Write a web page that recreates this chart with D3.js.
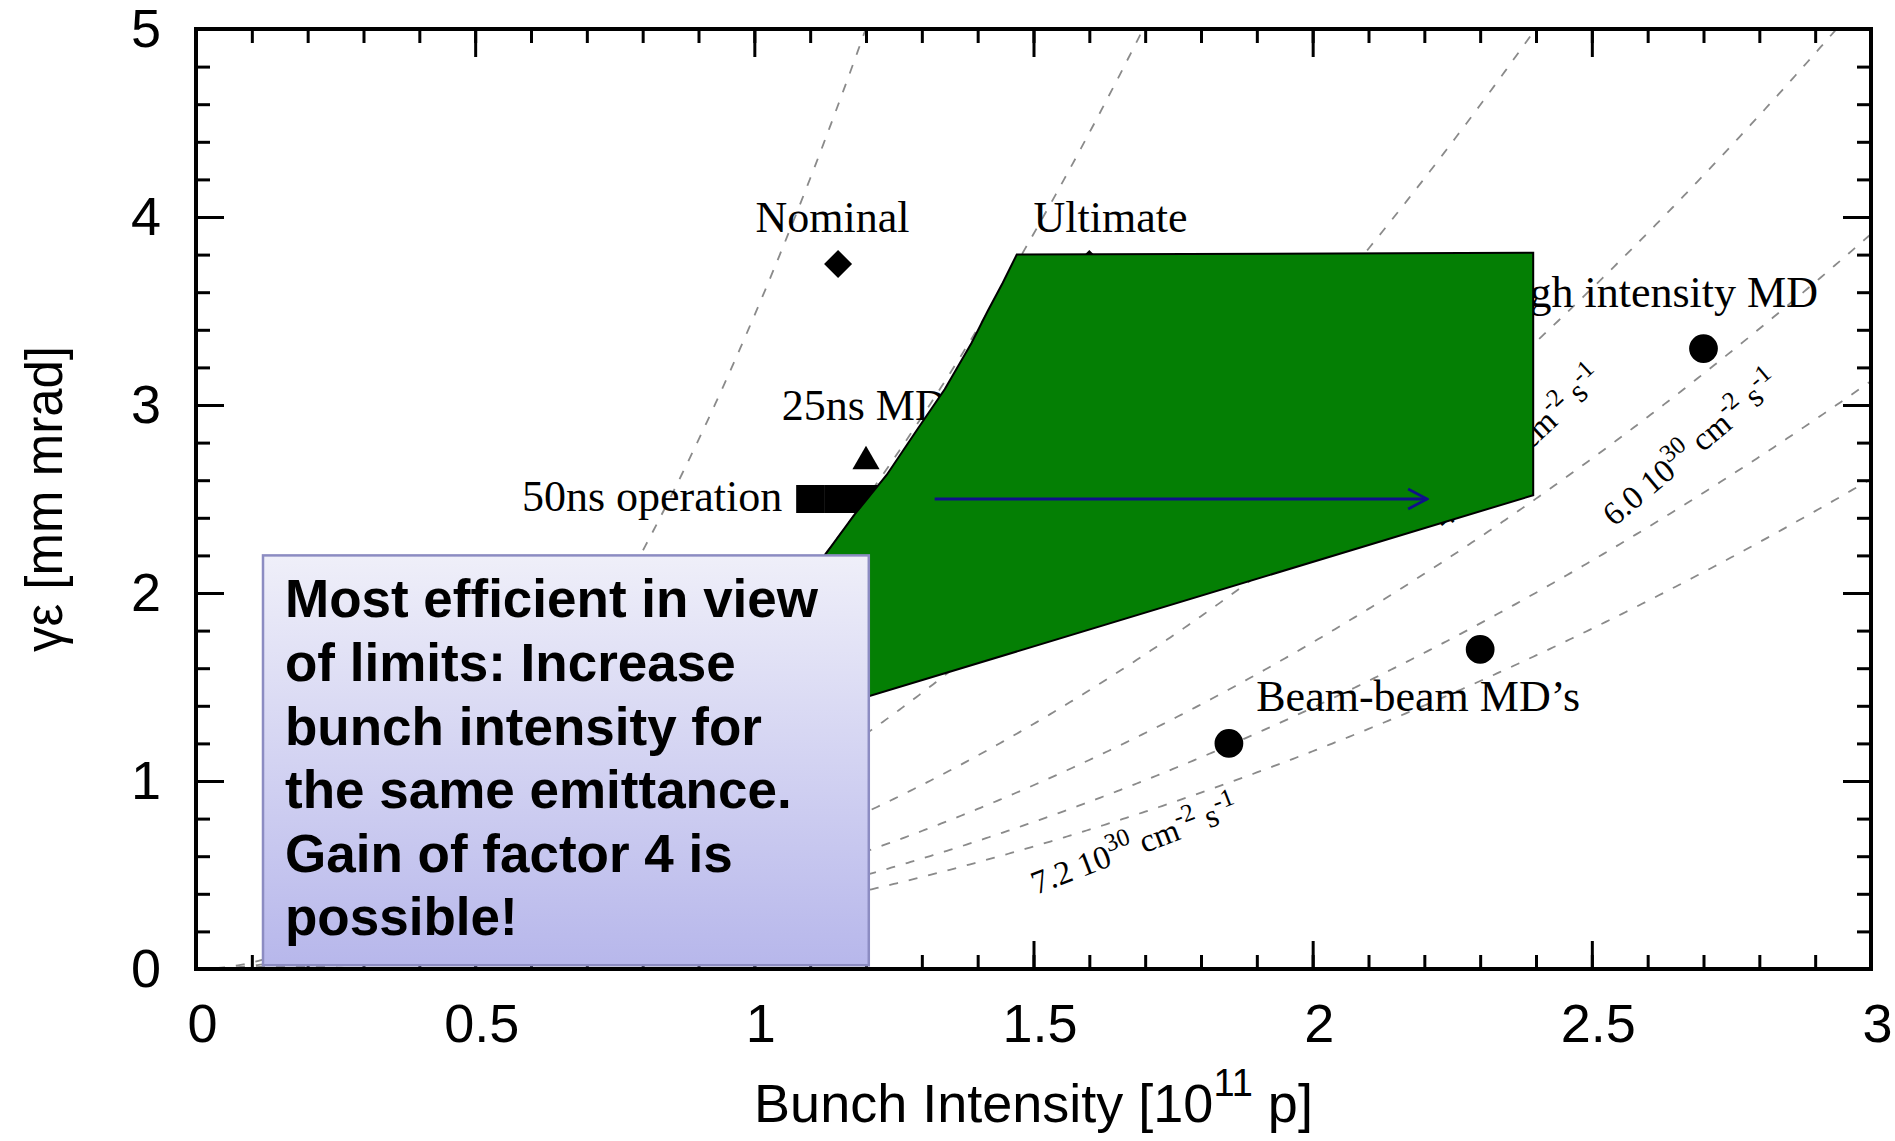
<!DOCTYPE html>
<html>
<head>
<meta charset="utf-8">
<script src="https://cdn.jsdelivr.net/npm/d3@7"></script>
<style>
  body { margin: 0; background: #fff; }
  svg { display: block; }
</style>
</head>
<body>
<div class="canvas"></div>
<script>
// values
const xTicks = [0, 0.5, 1, 1.5, 2, 2.5, 3];
const yTicks = [0, 1, 2, 3, 4, 5];

// iso-luminosity curves, eps = lumiConst * N^2 / L  (L in 10^30 cm^-2 s^-1)
const lumiValues = [0.6, 1.2, 2.4, 3.6, 4.8, 6.0, 7.2];
const lumiConst = 2.085;

const markerNames = ['Nominal', 'Ultimate', '25ns MD', '50ns operation', '50ns operation', '50ns operation',
  'High intensity MD', 'Beam-beam MD’s', 'Beam-beam MD’s'];
const markerN = [1.15, 1.60, 1.20, 1.10, 1.15, 1.20, 2.70, 1.85, 2.30];
const markerEps = [3.75, 3.75, 2.70, 2.50, 2.50, 2.50, 3.30, 1.20, 1.70];
const markerShape = ['diamond', 'diamond', 'triangle', 'square', 'square', 'square', 'circle', 'circle', 'circle'];

// green region (reachable area)
const regionN = [1.47, 2.395, 2.395, 0.87, 1.12, 1.18, 1.237, 1.293, 1.341, 1.389, 1.418, 1.445];
const regionEps = [3.80, 3.81, 2.52, 1.15, 2.176, 2.419, 2.628, 2.875, 3.084, 3.33, 3.50, 3.65];

const arrowN = [1.323, 2.205];
const arrowEps = [2.5, 2.5];

const boxLines = ['Most efficient in view', 'of limits: Increase', 'bunch intensity for',
  'the same emittance.', 'Gain of factor 4 is', 'possible!'];

// label anchors (data units)
const pointLabels = [
  {text: 'Nominal', n: 1.14, e: 3.92, anchor: 'middle'},
  {text: 'Ultimate', n: 1.50, e: 3.92, anchor: 'start'},
  {text: '25ns MD', n: 1.049, e: 2.922, anchor: 'start'},
  {text: '50ns operation', n: 1.05, e: 2.438, anchor: 'end'},
  {text: 'High intensity MD', n: 2.905, e: 3.521, anchor: 'end'},
  {text: 'Beam-beam MD’s', n: 1.899, e: 1.374, anchor: 'start'}
];
const lumiLabels = [
  {lum: 4.8, n: 2.237, e: 2.335, angle: -43},
  {lum: 6.0, n: 2.54, e: 2.35, angle: -40},
  {lum: 7.2, n: 1.505, e: 0.395, angle: -21}
];

// svg & dimensions
const margin = {top: 29, right: 24, bottom: 172, left: 196};
const graphWidth = 1895 - margin.left - margin.right;
const graphHeight = 1141 - margin.top - margin.bottom;

const svg = d3.select('.canvas')
  .append('svg')
    .attr('width', 1895)
    .attr('height', 1141);

const defs = svg.append('defs');
defs.append('clipPath').attr('id', 'plot-clip')
  .append('rect').attr('width', graphWidth).attr('height', graphHeight);

const grad = defs.append('linearGradient').attr('id', 'box-grad')
  .attr('x1', 0).attr('y1', 0).attr('x2', 0).attr('y2', 1);
grad.append('stop').attr('offset', '0%').attr('stop-color', '#efeff9');
grad.append('stop').attr('offset', '100%').attr('stop-color', '#b7b7eb');

defs.append('marker').attr('id', 'arrow-head')
  .attr('markerUnits', 'userSpaceOnUse')
  .attr('viewBox', '-22 -12 24 24')
  .attr('markerWidth', 24).attr('markerHeight', 24)
  .attr('refX', 0).attr('refY', 0)
  .attr('orient', 'auto')
  .append('path')
    .attr('d', 'M-19,-10L0,0L-19,10')
    .attr('fill', 'none')
    .attr('stroke', '#10108a')
    .attr('stroke-width', 2.8);

const graph = svg.append('g')
  .attr('transform', `translate(${margin.left}, ${margin.top})`);

const x = d3.scaleLinear().domain([0, 3]).range([0, graphWidth]);
const y = d3.scaleLinear().domain([0, 5]).range([graphHeight, 0]);

// dashed luminosity curves
const nGrid = d3.range(0, 3.0001, 0.005);
const line = d3.line().x(d => x(d[0])).y(d => y(d[1]));

graph.append('g')
  .attr('clip-path', 'url(#plot-clip)')
  .selectAll('path')
  .data(lumiValues)
  .enter()
  .append('path')
    .attr('d', L => line(nGrid.map(n => [n, lumiConst * n * n / L]).filter(p => p[1] < 5.6)))
    .attr('fill', 'none')
    .attr('stroke', '#8a8a8a')
    .attr('stroke-width', 1.8)
    .attr('stroke-dasharray', '9,11');

// luminosity labels
const lumiG = graph.selectAll('text.lumi')
  .data(lumiLabels)
  .enter()
  .append('text')
    .attr('class', 'lumi')
    .attr('transform', d => `translate(${x(d.n)}, ${y(d.e)}) rotate(${d.angle})`)
    .attr('font-family', '"Liberation Serif", "Times New Roman", serif')
    .attr('font-size', 33)
    .attr('fill', '#000');

lumiG.each(function(d) {
  const t = d3.select(this);
  t.append('tspan').text(`${d.lum.toFixed(1)} 10`);
  t.append('tspan').attr('dy', -14).attr('font-size', 25).text('30');
  t.append('tspan').attr('dy', 14).text(' cm');
  t.append('tspan').attr('dy', -14).attr('font-size', 25).text('-2');
  t.append('tspan').attr('dy', 14).text(' s');
  t.append('tspan').attr('dy', -14).attr('font-size', 25).text('-1');
});

// point labels
graph.selectAll('text.plabel')
  .data(pointLabels)
  .enter()
  .append('text')
    .attr('class', 'plabel')
    .attr('x', d => x(d.n))
    .attr('y', d => y(d.e))
    .attr('text-anchor', d => d.anchor)
    .attr('font-family', '"Liberation Serif", "Times New Roman", serif')
    .attr('font-size', 44)
    .attr('fill', '#000')
    .text(d => d.text);

// markers
const symbols = {
  diamond: d3.symbol().type(d3.symbolSquare).size(392),
  square: d3.symbol().type(d3.symbolSquare).size(784),
  triangle: d3.symbol().type(d3.symbolTriangle).size(320),
  circle: d3.symbol().type(d3.symbolCircle).size(650)
};
const markers = markerN.map((n, i) => ({name: markerNames[i], n, e: markerEps[i], shape: markerShape[i]}));

graph.selectAll('path.marker')
  .data(markers)
  .enter()
  .append('path')
    .attr('class', 'marker')
    .attr('d', d => symbols[d.shape]())
    .attr('transform', d => `translate(${x(d.n)}, ${y(d.e)})` + (d.shape === 'diamond' ? ' rotate(45)' : ''))
    .attr('fill', '#000');

// green region
const region = regionN.map((n, i) => [n, regionEps[i]]);
graph.append('path')
  .attr('d', line(region) + 'Z')
  .attr('fill', '#047f04')
  .attr('stroke', '#000')
  .attr('stroke-width', 2);

// arrow
graph.append('path')
  .attr('d', line(arrowN.map((n, i) => [n, arrowEps[i]])))
  .attr('stroke', '#10108a')
  .attr('stroke-width', 2.8)
  .attr('fill', 'none')
  .attr('marker-end', 'url(#arrow-head)');

// axes (ticks on all four sides, pointing inward)
const addAxis = (axis, transform, labels) => {
  const g = graph.append('g').attr('transform', transform).call(axis);
  g.select('.domain').remove();
  g.selectAll('line').attr('stroke', '#000').attr('stroke-width', 3);
  if (labels) {
    g.selectAll('text')
      .attr('font-family', '"Liberation Sans", Arial, Helvetica, sans-serif')
      .attr('font-size', 54)
      .attr('fill', '#000');
  }
  return g;
};
const fmt = d3.format('');

const xLab = addAxis(d3.axisBottom(x).tickValues(xTicks).tickSize(-28).tickPadding(35).tickFormat(fmt), `translate(0, ${graphHeight})`, true);
xLab.selectAll('text').attr('dx', 6);
addAxis(d3.axisBottom(x).ticks(30).tickSize(-14).tickFormat(''), `translate(0, ${graphHeight})`, false);
addAxis(d3.axisTop(x).tickValues(xTicks).tickSize(-28).tickFormat(''), 'translate(0, 0)', false);
addAxis(d3.axisTop(x).ticks(30).tickSize(-14).tickFormat(''), 'translate(0, 0)', false);
addAxis(d3.axisLeft(y).tickValues(yTicks).tickSize(-28).tickPadding(35).tickFormat(fmt), 'translate(0, 0)', true);
addAxis(d3.axisLeft(y).ticks(25).tickSize(-14).tickFormat(''), 'translate(0, 0)', false);
addAxis(d3.axisRight(y).tickValues(yTicks).tickSize(-28).tickFormat(''), `translate(${graphWidth}, 0)`, false);
addAxis(d3.axisRight(y).ticks(25).tickSize(-14).tickFormat(''), `translate(${graphWidth}, 0)`, false);

// frame
graph.append('rect')
  .attr('width', graphWidth)
  .attr('height', graphHeight)
  .attr('fill', 'none')
  .attr('stroke', '#000')
  .attr('stroke-width', 4);

// axis titles
const xTitle = svg.append('text')
  .attr('x', margin.left + graphWidth / 2)
  .attr('y', 1122)
  .attr('text-anchor', 'middle')
  .attr('font-family', '"Liberation Sans", Arial, Helvetica, sans-serif')
  .attr('font-size', 54)
  .attr('fill', '#000');
xTitle.append('tspan').text('Bunch Intensity [10');
xTitle.append('tspan').attr('dy', -26).attr('font-size', 38).text('11');
xTitle.append('tspan').attr('dy', 26).text(' p]');

svg.append('text')
  .attr('transform', `translate(62, ${margin.top + graphHeight / 2}) rotate(-90)`)
  .attr('text-anchor', 'middle')
  .attr('font-family', '"Liberation Sans", Arial, Helvetica, sans-serif')
  .attr('font-size', 51)
  .attr('fill', '#000')
  .text('γε [mm mrad]');

// annotation box
const bx0 = x(0.12), bx1 = x(1.205), by0 = y(2.2), by1 = y(0.02);
const box = graph.append('g');
box.append('rect')
  .attr('x', bx0)
  .attr('y', by0)
  .attr('width', bx1 - bx0)
  .attr('height', by1 - by0)
  .attr('fill', 'url(#box-grad)')
  .attr('stroke', '#8c8cc2')
  .attr('stroke-width', 2.5);

box.selectAll('text')
  .data(boxLines)
  .enter()
  .append('text')
    .attr('x', bx0 + 22)
    .attr('y', (d, i) => by0 + 62 + i * 63.6)
    .attr('font-family', '"Liberation Sans", Arial, Helvetica, sans-serif')
    .attr('font-weight', 'bold')
    .attr('font-size', 53)
    .attr('fill', '#000')
    .text(d => d);
</script>
</body>
</html>
